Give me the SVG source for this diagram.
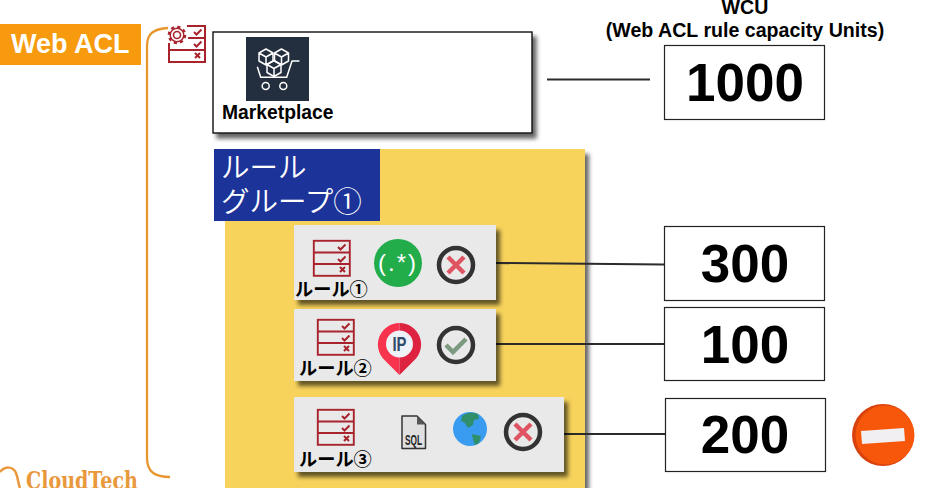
<svg xmlns="http://www.w3.org/2000/svg" xmlns:xlink="http://www.w3.org/1999/xlink" width="937" height="488" viewBox="0 0 937 488">
<style>
text{font-family:"Liberation Sans","Noto Sans CJK JP",sans-serif}
.val{fill:#fff;stroke:#222;stroke-width:1.2}
.num{font-size:53px;font-weight:700;text-anchor:middle;fill:#000}
.conn{stroke:#2b2b2b;stroke-width:2;fill:none}
.rule{fill:#e9e9e9;filter:url(#sh)}
.rl{font-family:"Noto Sans CJK JP","Liberation Sans",sans-serif;font-size:18.2px;font-weight:700;fill:#000}
.ck{fill:none;stroke:#a8232c;stroke-width:1.9}
.mk{fill:none;stroke:#a8232c;stroke-width:2}
.ring{fill:none;stroke:#333;stroke-width:4.5}
.x{stroke:#de5462;stroke-width:4.5;fill:none}
.blue{font-family:"Noto Sans CJK JP","Liberation Sans",sans-serif;font-size:28.500px;font-weight:350;fill:#fff}
.cube{fill:none;stroke:#fff;stroke-width:1.500;stroke-linejoin:round}
</style>
<defs>
<filter id="sh" x="-10%" y="-10%" width="125%" height="130%"><feDropShadow dx="4" dy="5" stdDeviation="2.2" flood-color="#000" flood-opacity="0.6"/></filter>
<g id="list">
<rect class="ck" x="0.8" y="0.8" width="36" height="35"/>
<path class="ck" d="M1 12.500H37M1 24H37"/>
<path class="mk" d="M25 7l2.500 2.500 5-5M25 19l2.500 2.500 5-5"/>
<path class="mk" d="M27 27l5 5M32 27l-5 5"/>
</g>
<g id="cube" class="cube"><path d="M0-8L7-4V4L0 8L-7 4V-4ZM-7-4L0 0L7-4M0 0V8"/></g>
<g id="no"><circle class="ring" r="17"/><path class="x" d="M-8-8L8 8M8-8L-8 8"/></g>
</defs>
<rect width="937" height="488" fill="#fff"/>

<g id="webacl">
<rect x="0" y="24" width="141" height="41" fill="#f79a0e"/>
<text x="11" y="53" font-size="27" font-weight="700" fill="#fff">Web ACL</text>
</g>
<path id="bracket" d="M168 28C154 29 147 33 147 46V458C147 472 155 477 170 477" fill="none" stroke="#e8972f" stroke-width="2.300"/>
<g id="aclicon" fill="none" stroke="#a8232c" stroke-width="2">
<path d="M187 26H205V62H169V43M169 50H205M188 38H205"/>
<path class="mk" d="M194 32l2.500 2.500 5-5M194 44l2.500 2.500 5-5M195 53l5 5M200 53l-5 5"/>
<circle cx="177" cy="35" r="3.500" stroke-width="1.600"/>
<circle cx="177" cy="35" r="8.200" stroke-width="2.200" stroke-dasharray="3.200 3.240"/>
<circle cx="177" cy="35" r="6.800" stroke-width="1.500"/>
</g>

<g id="marketplace">
<rect x="213" y="32" width="319" height="101" fill="#fff" stroke="#111" stroke-width="1.400" filter="url(#sh)"/>
<rect x="246" y="37" width="63" height="64" fill="#232f3e"/>
<use xlink:href="#cube" x="266" y="57"/>
<use xlink:href="#cube" x="281.500" y="57"/>
<use xlink:href="#cube" x="274" y="68.500"/>
<path class="cube" d="M299.500 61H292L286.700 77.300H260.700L257.300 66.700"/>
<circle class="cube" cx="265.700" cy="86" r="3.500"/>
<circle class="cube" cx="283.300" cy="86" r="3.500"/>
<text x="222" y="119" font-size="19.300" font-weight="700" fill="#000">Marketplace</text>
</g>

<g id="wcu-title" font-weight="700" fill="#000" text-anchor="middle" font-size="19.600">
<text x="745" y="14">WCU</text>
<text x="745" y="37">(Web ACL rule capacity Units)</text>
</g>

<g id="rulegroup">
<rect x="225" y="149" width="360" height="345" fill="#f7d35c" filter="url(#sh)"/>
<rect x="214" y="149" width="166" height="72" fill="#1c3499"/>
<text class="blue"><tspan x="221" y="178">ルール</tspan><tspan x="221" y="212">グループ①</tspan></text>
</g>

<g id="connectors">
<path class="conn" d="M547 79.500H650"/>
<path class="conn" d="M496 263L664 264.500"/>
<path class="conn" d="M496 344H664"/>
<path class="conn" d="M564 434H665"/>
</g>

<g id="rule1">
<rect class="rule" x="294" y="225" width="202" height="75"/>
<use xlink:href="#list" x="313" y="240"/>
<text class="rl" x="295" y="296">ルール①</text>
<circle cx="398" cy="263" r="24" fill="#22ac4a"/>
<text x="398" y="271" font-size="24" fill="#fff" text-anchor="middle" letter-spacing="2">(.*)</text>
<use xlink:href="#no" x="456" y="265"/>
</g>

<g id="rule2">
<rect class="rule" x="294" y="309" width="202" height="72"/>
<use xlink:href="#list" x="317" y="319"/>
<text class="rl" x="299" y="375">ルール②</text>
<path d="M399.500 323A21.500 21.500 0 0 0 384.500 360L399.500 375Z" fill="#f7334d"/>
<path d="M399.500 323A21.500 21.500 0 0 1 414.500 360L399.500 375Z" fill="#dd2340"/>
<circle cx="399.500" cy="344" r="13.500" fill="#eef1f6"/>
<text x="399.500" y="351" font-size="20" font-weight="700" fill="#2f4a6b" text-anchor="middle" textLength="14" lengthAdjust="spacingAndGlyphs">IP</text>
<circle class="ring" cx="456" cy="345" r="17"/>
<path d="M446 345l7 7 13-13" fill="none" stroke="#7b9a80" stroke-width="4.500"/>
</g>

<g id="rule3">
<rect class="rule" x="294" y="397" width="270" height="75"/>
<use xlink:href="#list" x="317" y="409"/>
<text class="rl" x="299" y="466">ルール③</text>
<path d="M402 416H417L425.500 424.500V448.500H402Z" fill="#e0e0e0" stroke="#333" stroke-width="1.500" stroke-linejoin="round"/>
<path d="M417 416V424.500H425.500Z" fill="#555"/>
<text x="413.500" y="445" font-size="14" font-weight="700" fill="#222" text-anchor="middle" textLength="17" lengthAdjust="spacingAndGlyphs">SQL</text>
<circle cx="470" cy="429" r="17" fill="#3a9cf0"/>
<path d="M462 416C467 412 473 412 478 414L479 419L474 420L473 425L468 428L465 423L461 421Z" fill="#2f8f6b"/>
<path d="M472 434L481 436L479 443L475 445L473 440Z" fill="#2f8f6b"/>
<use xlink:href="#no" x="523" y="432"/>
</g>

<g id="val1000"><rect class="val" x="664.500" y="45.500" width="160" height="74"/><text class="num" x="745" y="101">1000</text></g>
<g id="val300"><rect class="val" x="664.500" y="226.500" width="160" height="74"/><text class="num" x="745" y="282">300</text></g>
<g id="val100"><rect class="val" x="664.500" y="307.500" width="160" height="73"/><text class="num" x="745" y="363">100</text></g>
<g id="val200"><rect class="val" x="665.500" y="398.500" width="160" height="73"/><text class="num" x="745" y="453">200</text></g>

<g id="stop">
<circle cx="883" cy="435" r="31" fill="#d8420c"/>
<circle cx="885" cy="435" r="29.500" fill="#f6570a"/>
<path d="M861 431L904 428L905 441L862 444Z" fill="#f2eff2"/>
</g>

<g id="logo">
<path d="M0 472C5 466 13 466 16 473C18 478 18 483 20 488" fill="none" stroke="#e9983c" stroke-width="2.500"/>
<text x="26" y="489" font-size="24" font-weight="700" fill="#e9983c" style="font-family:'DejaVu Serif',serif" textLength="112" lengthAdjust="spacingAndGlyphs">CloudTech</text>
</g>
</svg>
